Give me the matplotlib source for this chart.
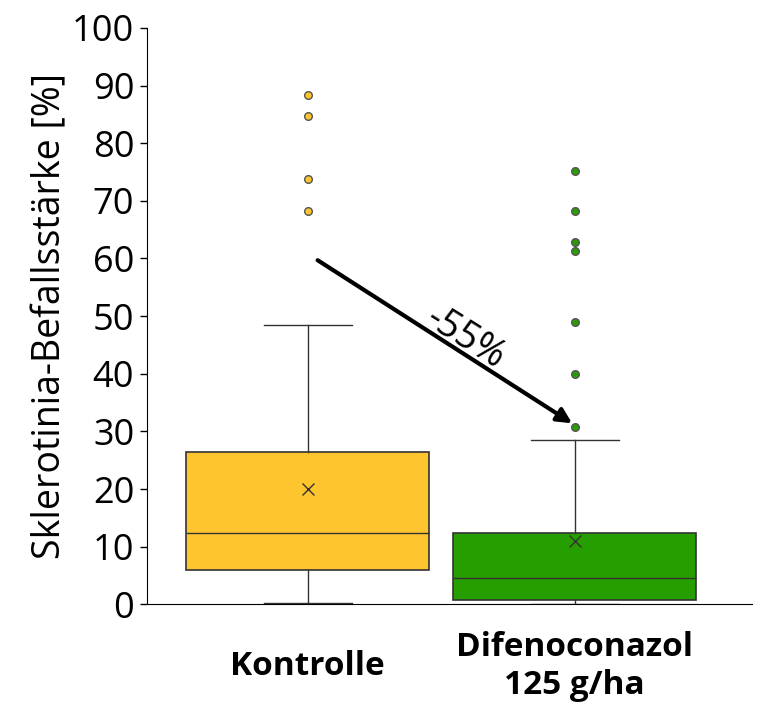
import matplotlib.pyplot as plt

plt.rcParams['font.family'] = ['Open Sans', 'DejaVu Sans']

groups = ['Kontrolle', 'Difenoconazol\n125 g/ha']
colours = ['#FFC52E', '#279E00']
whislo = [0.2, 0.0]
q1 = [5.9, 0.7]
med = [12.3, 4.5]
q3 = [26.4, 12.3]
whishi = [48.4, 28.5]
means = [20.0, 10.9]
outliers = [[88.4, 84.7, 73.8, 68.2],
            [75.2, 68.2, 62.8, 61.3, 49.0, 39.9, 30.7]]
reduction = '-55%'

fig = plt.figure(figsize=(7.68, 7.16), dpi=100)
ax = fig.add_axes([0.191, 0.156, 0.788, 0.805])

stats = []
for i in range(len(groups)):
    stats.append({'whislo': whislo[i], 'q1': q1[i], 'med': med[i], 'q3': q3[i],
                  'whishi': whishi[i], 'mean': means[i], 'fliers': outliers[i]})

edge = '#333333'
for i, s in enumerate(stats):
    ax.bxp([s], positions=[i + 1], widths=0.91, patch_artist=True,
           showmeans=True, showfliers=True,
           boxprops=dict(facecolor=colours[i], edgecolor=edge, lw=1.2),
           medianprops=dict(color=edge, lw=1.0),
           whiskerprops=dict(color=edge, lw=1.0),
           capprops=dict(color=edge, lw=1.0),
           capwidths=0.33,
           meanprops=dict(marker='x', markeredgecolor=edge, markersize=9, mew=1.0),
           flierprops=dict(marker='o', markerfacecolor=colours[i],
                           markeredgecolor='#555555', markersize=5.5, mew=1.0))

# reduction arrow from Kontrolle to Difenoconazol
ax.annotate('', xy=(1.99, 31.4), xytext=(1.037, 59.7),
            arrowprops=dict(arrowstyle='-|>', color='black', lw=3,
                            mutation_scale=22, shrinkA=0, shrinkB=0))
ax.text(1.59, 46.2, reduction, rotation=-32, fontsize=27,
        ha='center', va='center')

ax.set_xlim(0.397, 2.663)
ax.set_ylim(0, 100)
ax.set_yticks(range(0, 101, 10))
ax.tick_params(axis='y', labelsize=26, length=5, width=1, pad=4)
ax.set_xticks([1, 2])
ax.set_xticklabels(groups, fontsize=24, fontweight='bold')
for lab in ax.get_xticklabels():
    lab.set_verticalalignment('center')
ax.tick_params(axis='x', length=0, pad=45)
ax.set_ylabel('Sklerotinia-Befallsstärke [%]', fontsize=27, labelpad=2)
ax.spines['top'].set_visible(False)
ax.spines['right'].set_visible(False)

fig.savefig('out.png', dpi=100)
